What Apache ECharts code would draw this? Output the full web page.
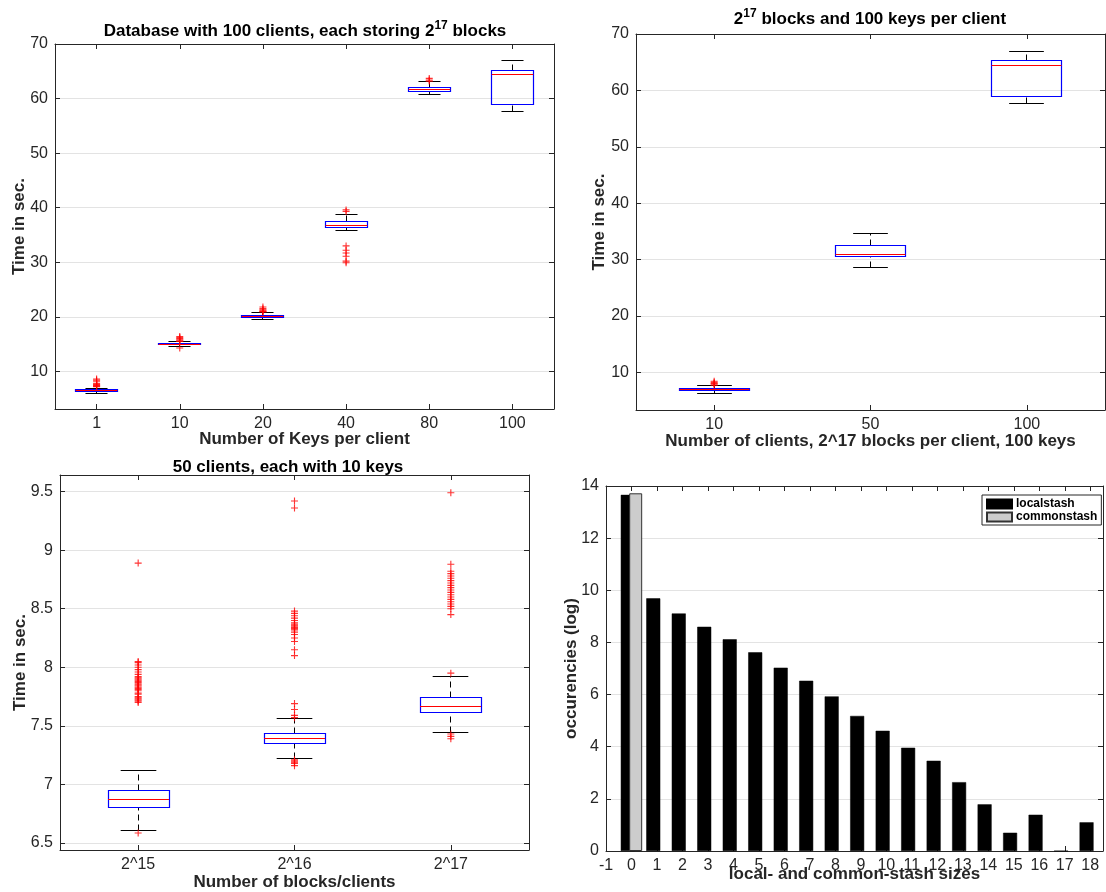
<!DOCTYPE html>
<html>
<head>
<meta charset="utf-8">
<script src="https://cdn.jsdelivr.net/npm/echarts@6/dist/echarts.min.js"></script>
<style>
  html, body { margin: 0; padding: 0; background: #fff; }
  #main { width: 1106px; height: 892px; }
</style>
</head>
<body>
<div id="main"></div>
<script>
// top left: database with 100 clients, varying keys per client
const keysCats = ['1', '10', '20', '40', '80', '100'];
// each box: [lower whisker, q1, median, q3, upper whisker]
const keysBoxes = [
  [6.0, 6.3, 6.45, 6.6, 6.95],
  [14.5, 14.85, 15.0, 15.15, 15.4],
  [19.5, 19.9, 20.1, 20.3, 20.8],
  [35.9, 36.4, 36.8, 37.4, 38.8],
  [60.7, 61.3, 61.7, 62.1, 63.1],
  [57.6, 58.9, 64.4, 65.2, 67.0]
];
const keysOutliers = [
  [7.2, 7.3, 7.4, 7.5, 7.6, 7.8, 8.2, 8.4, 8.6],
  [14.3, 15.5, 15.6, 15.8, 16.0, 16.2, 16.4],
  [20.9, 21.0, 21.1, 21.3, 21.5, 21.8],
  [29.9, 30.2, 31.1, 31.7, 32.2, 33.0, 39.3, 39.6],
  [63.2, 63.4, 63.7],
  []
];

// top right: number of clients
const clientsCats = ['10', '50', '100'];
const clientsBoxes = [
  [6.3, 6.7, 6.9, 7.15, 7.6],
  [28.6, 30.5, 30.86, 32.45, 34.65],
  [57.64, 58.95, 64.45, 65.27, 66.98]
];
const clientsOutliers = [
  [7.7, 7.9, 8.0, 8.2, 8.4],
  [],
  []
];

// bottom left: blocks per client
const blocksCats = ['2^15', '2^16', '2^17'];
const blocksBoxes = [
  [6.605, 6.806, 6.869, 6.948, 7.118],
  [7.223, 7.351, 7.396, 7.436, 7.564],
  [7.447, 7.615, 7.668, 7.742, 7.921]
];
const blocksOutliers = [
  [6.585, 7.70, 7.71, 7.72, 7.73, 7.74, 7.75, 7.77, 7.78, 7.80, 7.81, 7.82, 7.83, 7.84,
   7.85, 7.86, 7.87, 7.88, 7.89, 7.90, 7.91, 7.92, 7.94, 7.96, 7.98, 8.00, 8.02, 8.04, 8.05, 8.89],
  [7.16, 7.18, 7.19, 7.20, 7.21, 7.57, 7.59, 7.64, 7.69, 8.10, 8.15, 8.22, 8.25, 8.28, 8.30,
   8.32, 8.33, 8.34, 8.35, 8.36, 8.37, 8.38, 8.40, 8.42, 8.44, 8.46, 8.48, 9.36, 9.42],
  [7.39, 7.41, 7.43, 7.95, 8.45, 8.50, 8.52, 8.54, 8.56, 8.58, 8.60, 8.62, 8.64, 8.66,
   8.68, 8.70, 8.72, 8.74, 8.76, 8.78, 8.80, 8.82, 8.88, 9.49]
];

// bottom right: stash size histogram (log)
const stashSizes = [0, 1, 2, 3, 4, 5, 6, 7, 8, 9, 10, 11, 12, 13, 14, 15, 16, 17, 18];
const localStash = [13.66, 9.69, 9.11, 8.60, 8.12, 7.62, 7.03, 6.53, 5.93, 5.18, 4.61,
  3.96, 3.46, 2.64, 1.79, 0.70, 1.39, 0, 1.10];
const commonStash = [13.72];

const font = '"Liberation Sans", Arial, Helvetica, sans-serif';
const ink = '#262626';
const nameStyle = { fontFamily: font, fontSize: 17, fontWeight: 'bold', color: ink };
const labelStyle = { fontFamily: font, fontSize: 16, color: ink };
const plus = 'path://M0,4.2H10V5.8H0Z M4.2,0H5.8V10H4.2Z';

const chartDom = document.getElementById('main');
const myChart = echarts.init(chartDom, null, { renderer: 'canvas' });

function crisp(v) { return Math.round(v - 0.5) + 0.5; }

// matlab style box: dashed whiskers, black caps, blue box, red median
function boxItem(boxFrac, capFrac) {
  return function (params, api) {
    const i = api.value(0);
    const band = api.size([1, 0])[0];
    const bw = band * boxFrac;
    const cw = band * capFrac;
    const p = [1, 2, 3, 4, 5].map(d => api.coord([i, api.value(d)]));
    const cx = crisp(p[0][0]);
    const y = p.map(q => crisp(q[1]));
    const black = { stroke: '#000', lineWidth: 1 };
    const dash = { stroke: '#000', lineWidth: 1, lineDash: [6, 4] };
    return {
      type: 'group',
      children: [
        { type: 'line', shape: { x1: cx, y1: y[0], x2: cx, y2: y[1] }, style: dash },
        { type: 'line', shape: { x1: cx, y1: y[3], x2: cx, y2: y[4] }, style: dash },
        { type: 'line', shape: { x1: cx - cw / 2, y1: y[0], x2: cx + cw / 2, y2: y[0] }, style: black },
        { type: 'line', shape: { x1: cx - cw / 2, y1: y[4], x2: cx + cw / 2, y2: y[4] }, style: black },
        { type: 'rect', shape: { x: crisp(cx - bw / 2), y: y[3], width: Math.round(bw), height: y[1] - y[3] },
          style: { fill: 'none', stroke: '#0000ff', lineWidth: 1.2 } },
        { type: 'line', shape: { x1: cx - bw / 2, y1: y[2], x2: cx + bw / 2, y2: y[2] },
          style: { stroke: '#ff0000', lineWidth: 1 } }
      ]
    };
  };
}

function catX(gi, cats, name, gap) {
  const base = {
    type: 'category', gridIndex: gi, data: cats, boundaryGap: true,
    axisLine: { show: true, lineStyle: { color: ink, width: 1 } },
    axisTick: { show: true, inside: true, length: 5, alignWithLabel: true, lineStyle: { color: ink } },
    splitLine: { show: false }
  };
  return [
    Object.assign({}, base, {
      position: 'bottom', name: name, nameLocation: 'middle', nameGap: gap, nameMoveOverlap: false,
      nameTextStyle: nameStyle, axisLabel: Object.assign({ margin: 7 }, labelStyle)
    }),
    Object.assign({}, base, { position: 'top', axisLabel: { show: false } })
  ];
}

function valAxis(gi, pos, min, max, step, name, gap, grid) {
  const fmt = v => (Math.abs(v / step - Math.round(v / step)) < 1e-6 ? String(Math.round(v * 100) / 100) : '');
  const base = {
    type: 'value', gridIndex: gi, min: min, max: max, minInterval: step, maxInterval: step,
    axisLine: { show: true, onZero: false, lineStyle: { color: ink, width: 1 } },
    axisTick: { show: true, inside: true, length: 5, lineStyle: { color: ink } }
  };
  const far = pos === 'left' ? 'right' : 'top';
  const near = pos === 'left' ? 'left' : 'bottom';
  return [
    Object.assign({}, base, {
      position: near, name: name, nameLocation: 'middle', nameGap: gap, nameMoveOverlap: false,
      nameTextStyle: nameStyle,
      axisLabel: Object.assign({ margin: 7, formatter: fmt, showMinLabel: true, showMaxLabel: true }, labelStyle),
      splitLine: { show: grid, lineStyle: { color: '#e3e3e3', width: 1 } }
    }),
    Object.assign({}, base, { position: far, axisLabel: { show: false }, splitLine: { show: false } })
  ];
}

const titleStyle = {
  fontFamily: font, fontSize: 17, fontWeight: 'bold', color: '#000',
  rich: { sup: { fontFamily: font, fontSize: 12, fontWeight: 'bold', color: '#000', padding: [0, 0, 11, 0] } }
};

const option = {
  backgroundColor: '#fff',
  animation: false,
  title: [
    { text: 'Database with 100 clients, each storing 2{sup|17} blocks', left: 305, top: 20,
      textAlign: 'center', padding: 0, textStyle: titleStyle },
    { text: '2{sup|17} blocks and 100 keys per client', left: 870, top: 8,
      textAlign: 'center', padding: 0, textStyle: titleStyle },
    { text: '50 clients, each with 10 keys', left: 288, top: 459,
      textAlign: 'center', padding: 0, textStyle: titleStyle }
  ],
  legend: {
    data: ['localstash', 'commonstash'], orient: 'vertical', left: 982, top: 495,
    itemWidth: 25, itemHeight: 9, itemGap: 1, padding: [3, 4, 2, 4], icon: 'rect',
    borderColor: ink, borderWidth: 1, borderRadius: 0, backgroundColor: '#fff', selectedMode: false,
    textStyle: { fontFamily: font, fontSize: 12, fontWeight: 'bold', color: '#000', padding: [0, 0, 0, -1] }
  },
  grid: [
    { left: 55, top: 44, width: 499, height: 365 },
    { left: 636, top: 34, width: 469, height: 376 },
    { left: 60, top: 475, width: 469, height: 376 },
    { left: 606, top: 486, width: 499, height: 365 }
  ],
  xAxis: [
    ...catX(0, keysCats, 'Number of Keys per client', 22),
    ...catX(1, clientsCats, 'Number of clients, 2^17 blocks per client, 100 keys', 23),
    ...catX(2, blocksCats, 'Number of blocks/clients', 24),
    ...valAxis(3, 'bottom', -1, 18.5, 1, 'local- and common-stash sizes', 15, false)
  ],
  yAxis: [
    ...valAxis(0, 'left', 3.11, 70, 10, 'Time in sec.', 27, true),
    ...valAxis(1, 'left', 3.31, 70, 10, 'Time in sec.', 28, true),
    ...valAxis(2, 'left', 6.44, 9.642, 0.5, 'Time in sec.', 31, true),
    ...valAxis(3, 'left', 0, 14, 2, 'occurencies (log)', 26, true)
  ],
  series: [
    { type: 'custom', xAxisIndex: 0, yAxisIndex: 0, renderItem: boxItem(0.5, 0.265),
      encode: { x: 0, y: [1, 2, 3, 4, 5] }, data: keysBoxes.map((b, i) => [i, ...b]) },
    { type: 'scatter', xAxisIndex: 0, yAxisIndex: 0, symbol: plus, symbolSize: 7,
      itemStyle: { color: '#ff0000' },
      data: keysOutliers.flatMap((vals, i) => vals.map(v => [i, v])) },

    { type: 'custom', xAxisIndex: 2, yAxisIndex: 2, renderItem: boxItem(0.447, 0.222),
      encode: { x: 0, y: [1, 2, 3, 4, 5] }, data: clientsBoxes.map((b, i) => [i, ...b]) },
    { type: 'scatter', xAxisIndex: 2, yAxisIndex: 2, symbol: plus, symbolSize: 7,
      itemStyle: { color: '#ff0000' },
      data: clientsOutliers.flatMap((vals, i) => vals.map(v => [i, v])) },

    { type: 'custom', xAxisIndex: 4, yAxisIndex: 4, renderItem: boxItem(0.39, 0.228),
      encode: { x: 0, y: [1, 2, 3, 4, 5] }, data: blocksBoxes.map((b, i) => [i, ...b]) },
    { type: 'scatter', xAxisIndex: 4, yAxisIndex: 4, symbol: plus, symbolSize: 7,
      itemStyle: { color: '#ff0000' },
      data: blocksOutliers.flatMap((vals, i) => vals.map(v => [i, v])) },

    { type: 'bar', name: 'localstash', xAxisIndex: 6, yAxisIndex: 6, barWidth: 14, barGap: '-40%',
      itemStyle: { color: '#000', borderColor: '#000', borderWidth: 0.5 },
      data: stashSizes.map((s, i) => [s, localStash[i]]) },
    { type: 'bar', name: 'commonstash', xAxisIndex: 6, yAxisIndex: 6, barWidth: 13, barGap: '-40%',
      itemStyle: { color: '#cccccc', borderColor: '#333', borderWidth: 1 },
      data: commonStash.map((v, i) => [stashSizes[i], v]) }
  ]
};

option && myChart.setOption(option);
</script>
</body>
</html>
